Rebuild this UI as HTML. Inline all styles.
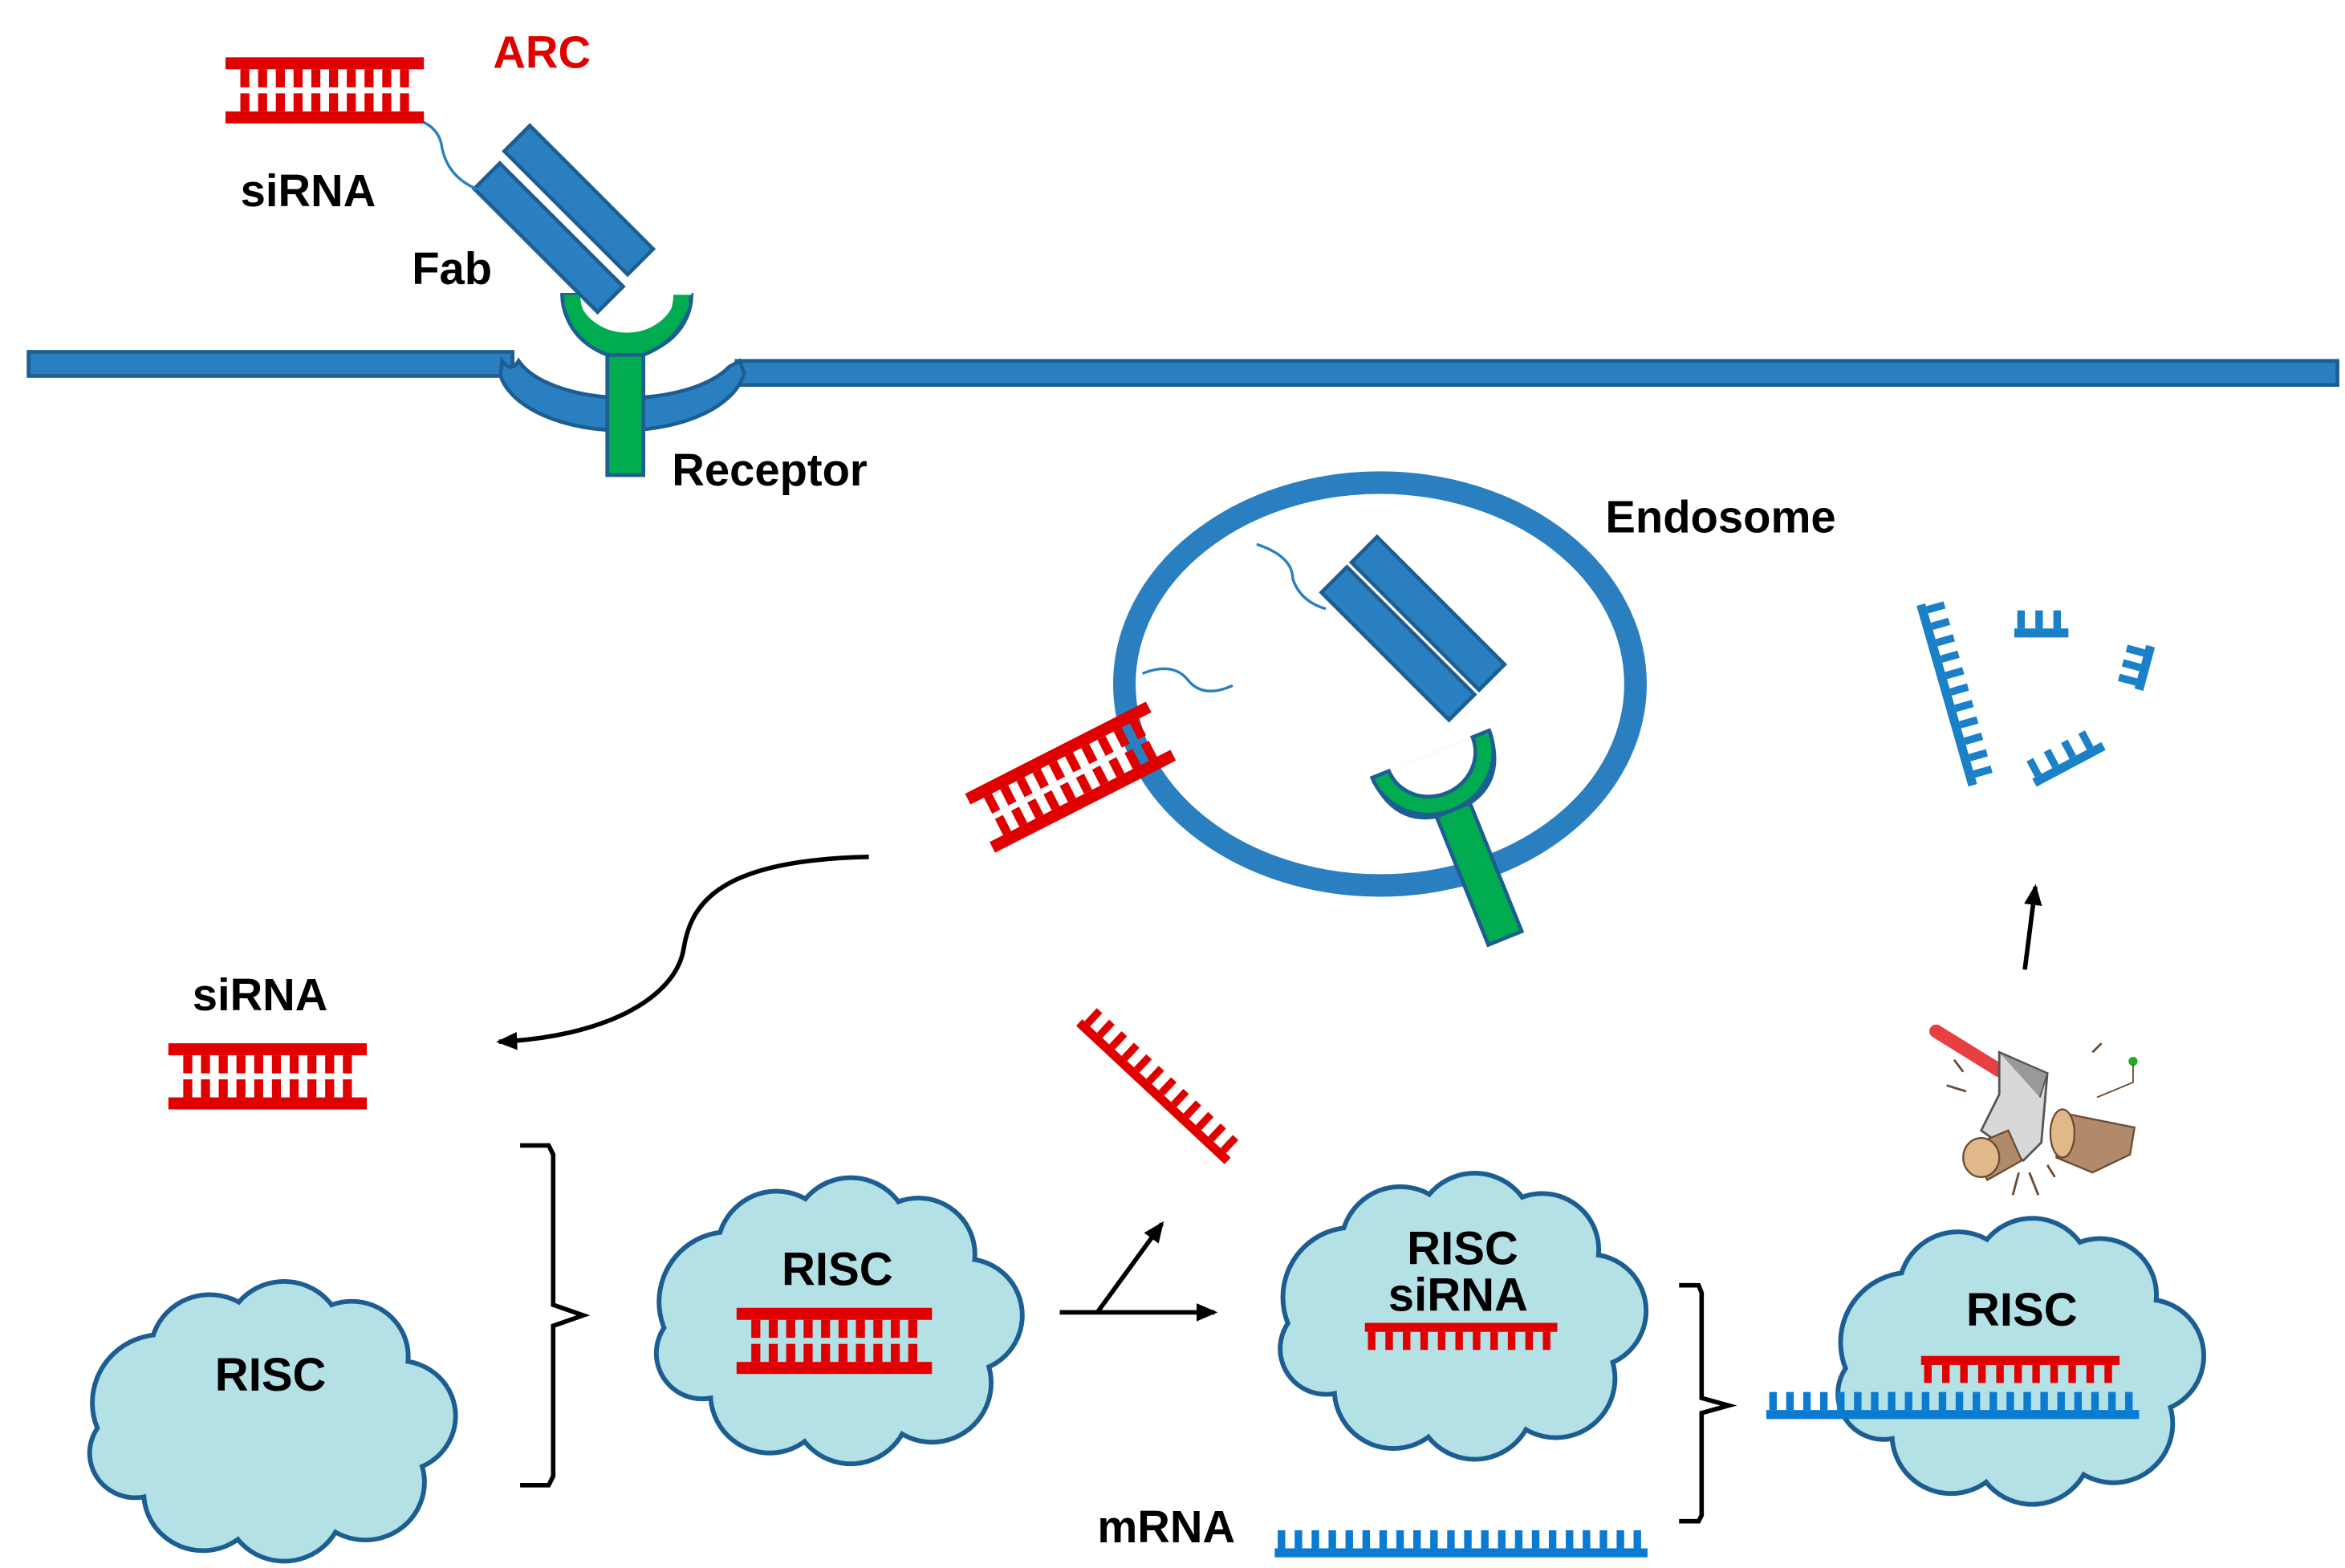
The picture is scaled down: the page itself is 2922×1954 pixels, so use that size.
<!DOCTYPE html>
<html><head><meta charset="utf-8"><style>
html,body{margin:0;padding:0;background:#fff}
svg{display:block}
text{font-family:"Liberation Sans",sans-serif;font-weight:bold}
</style></head><body>
<svg id="s" width="2922" height="1954" viewBox="0 0 1560 1043" xmlns="http://www.w3.org/2000/svg">
<rect width="1560" height="1043" fill="#fff"/>
<g id="g"></g>
<!-- membrane -->
<rect x="19" y="234" width="322" height="16" fill="#2a7fc1" stroke="#1d5e92" stroke-width="2.5"/>
<rect x="490" y="240" width="1065" height="16" fill="#2a7fc1" stroke="#1d5e92" stroke-width="2.5"/>
<path d="M334 240 Q340 248 345 240 A75 35 0 0 0 485 244 L492 240 L495 248 A82 44 0 0 1 333 250 Z" fill="#2a7fc1" stroke="#1d5e92" stroke-width="2.5"/>
<!-- receptor -->
<rect x="404" y="228" width="24" height="88" fill="#00ac4f" stroke="#1d5e92" stroke-width="2.5"/>
<path d="M374 196 A43 40 0 0 0 460 196 L448 196 A32 28 0 0 1 386 196 Z" fill="#00ac4f" stroke="#1d5e92" stroke-width="2.5"/>
<path d="M374 196 Q376 225 404 236 L428 236 Q456 225 460 196" fill="#00ac4f" stroke="#1d5e92" stroke-width="2.5"/>
<path d="M386 196 A31 30 0 0 0 448 196 L460 196 L460 194 L448 194" fill="#fff" stroke="none"/>
<path d="M380 200 A38 34 0 0 0 454 200" fill="none" stroke="#00ac4f" stroke-width="10"/>
<!-- Fab top -->
<g transform="translate(365,158) rotate(45)"><rect x="-58" y="-12" width="116" height="24" fill="#2a7fc1" stroke="#1d5e92" stroke-width="2.5"/></g>
<g transform="translate(385,133) rotate(45)"><rect x="-58" y="-12" width="116" height="24" fill="#2a7fc1" stroke="#1d5e92" stroke-width="2.5"/></g>
<path d="M272 78 Q292 82 294 98 Q298 118 318 126" fill="none" stroke="#2a7fc1" stroke-width="1.8"/>
<!-- endosome -->
<ellipse cx="918" cy="455" rx="170" ry="134" fill="none" stroke="#2a7fc1" stroke-width="15"/>
<g transform="translate(930,428) rotate(45)"><rect x="-60" y="-12" width="120" height="24" fill="#2a7fc1" stroke="#1d5e92" stroke-width="2.5"/></g>
<g transform="translate(950,408) rotate(45)"><rect x="-60" y="-12" width="120" height="24" fill="#2a7fc1" stroke="#1d5e92" stroke-width="2.5"/></g>
<path d="M836 362 Q860 370 860 385 Q865 400 882 405" fill="none" stroke="#2a7fc1" stroke-width="1.8"/>
<path d="M760 448 Q780 440 790 452 Q800 465 820 456" fill="none" stroke="#2a7fc1" stroke-width="1.8"/>
<g transform="translate(960,522) rotate(-22)">
<rect x="-12" y="10" width="24" height="100" fill="#00ac4f" stroke="#1d5e92" stroke-width="2.5"/>
<path d="M-42 -22 A42 40 0 0 0 42 -22 L30 -22 A30 28 0 0 1 -30 -22 Z M-42 -22 Q-40 12 -12 18 L12 18 Q40 12 42 -22" fill="#00ac4f" stroke="#1d5e92" stroke-width="2.5"/>
<path d="M-30 -22 A30 28 0 0 0 30 -22 Z" fill="#fff"/>
<path d="M-30 -22 A30 28 0 0 0 30 -22" fill="none" stroke="#1d5e92" stroke-width="2.5"/>
</g>
<!-- arrows -->
<defs>
<marker id="ah2" markerWidth="14" markerHeight="12" refX="12" refY="6" orient="auto" markerUnits="userSpaceOnUse"><path d="M0 0 L14 6 L0 12 Z" fill="#000"/></marker></defs>
<path d="M578 570 C480 572 460 600 455 630 C450 665 400 690 332 693" fill="none" stroke="#000" stroke-width="3" marker-end="url(#ah2)"/>
<path d="M346 762 L365 762 L368 768 L368 868 L388 875 L368 882 L368 982 L365 988 L346 988" fill="none" stroke="#000" stroke-width="3"/>
<path d="M705 873 L808 873" stroke="#000" stroke-width="3" marker-end="url(#ah2)"/>
<path d="M730 873 L773 814" stroke="#000" stroke-width="3" marker-end="url(#ah2)"/>
<path d="M1117 855 L1130 855 L1132 860 L1132 930 L1150 935 L1132 940 L1132 1008 L1130 1012 L1117 1012" fill="none" stroke="#000" stroke-width="3"/>
<path d="M1347 645 L1354 590" stroke="#000" stroke-width="3" marker-end="url(#ah2)"/>
<!-- axe & logs -->
<g>
<path d="M1288 686 L1330 712" stroke="#e84040" stroke-width="9" stroke-linecap="round"/>
<path d="M1330 700 L1362 714 L1358 760 L1346 772 L1318 752 L1330 728 Z" fill="#d8d8d8" stroke="#555" stroke-width="1.5"/>
<path d="M1330 700 L1362 714 L1357 730" fill="#999" stroke="#555" stroke-width="1"/>
<path d="M1370 740 L1420 750 L1417 768 L1392 780 L1368 770 Z" fill="#b08a6a" stroke="#6a4a30" stroke-width="1.2"/>
<ellipse cx="1372" cy="754" rx="8" ry="16" fill="#e0b88a" stroke="#6a4a30" stroke-width="1.2"/>
<path d="M1312 762 L1336 752 L1345 772 L1322 785 Z" fill="#b08a6a" stroke="#6a4a30" stroke-width="1.2"/>
<ellipse cx="1318" cy="770" rx="12" ry="13" fill="#e0b88a" stroke="#6a4a30" stroke-width="1.2"/>
<circle cx="1419" cy="706" r="3" fill="#2a2"/>
<path d="M1419 708 L1419 720 L1395 730" fill="none" stroke="#6a4a30" stroke-width="1"/>
<path d="M1295 722 L1308 726 M1300 705 L1306 713 M1343 780 L1339 795 M1350 780 L1356 795 M1362 775 L1367 783 M1392 700 L1398 694" stroke="#6a4a30" stroke-width="1.5"/>
</g>
<!-- labels -->
<text x="328" y="45" font-size="30" fill="#e00000">ARC</text>
<text x="160" y="137" font-size="30" fill="#000">siRNA</text>
<text x="274" y="189" font-size="30" fill="#000">Fab</text>
<text x="447" y="323" font-size="30" fill="#000">Receptor</text>
<text x="1068" y="354" font-size="30" fill="#000">Endosome</text>
<text x="128" y="672" font-size="30" fill="#000">siRNA</text>
<text x="730" y="1026" font-size="30" fill="#000">mRNA</text>
<g id="top"></g>
<text x="180" y="925" font-size="31" fill="#000" text-anchor="middle">RISC</text>
<text x="557" y="855" font-size="31" fill="#000" text-anchor="middle">RISC</text>
<text x="973" y="841" font-size="31" fill="#000" text-anchor="middle">RISC</text>
<text x="970" y="872" font-size="31" fill="#000" text-anchor="middle">siRNA</text>
<text x="1345" y="882" font-size="31" fill="#000" text-anchor="middle">RISC</text>
</svg>
<script>
var NS="http://www.w3.org/2000/svg",G=document.getElementById("g"),T=document.getElementById("top");
function el(p,n,a){var e=document.createElementNS(NS,n);for(var k in a)e.setAttribute(k,a[k]);p.appendChild(e);return e;}
function cloud(cx,cy,sx,sy){
 var c=[[-80,-10,50],[-45,-48,42],[10,-58,42],[60,-45,40],[95,0,40],[70,50,42],[10,66,42],[-50,58,42],[-100,28,32],[0,0,70],[-20,10,60],[40,10,60]];
 var g=el(G,"g",{transform:"translate("+cx+","+cy+") scale("+sx+","+sy+")"});
 c.forEach(function(q){el(g,"circle",{cx:q[0],cy:q[1],r:q[2],fill:"#b3e1e6",stroke:"#1d5e92","stroke-width":7});});
 c.forEach(function(q){el(g,"circle",{cx:q[0],cy:q[1],r:q[2],fill:"#b3e1e6"});});
}
cloud(180,942,0.9,0.88);cloud(557,875,0.9,0.9);cloud(972,872,0.9,0.9);cloud(1343,902,0.9,0.9);
function ds(p,x,y,w,col,tr){
 var g=el(p,"g",{transform:tr||""});
 el(g,"rect",{x:x,y:y,width:w,height:8,fill:col});
 el(g,"rect",{x:x,y:y+36,width:w,height:8,fill:col});
 var n=10,st=(w-14)/n;
 for(var i=0;i<n;i++){var tx=x+7+i*st+st/2-3;
  el(g,"rect",{x:tx,y:y+8,width:6,height:12,fill:col});
  el(g,"rect",{x:tx,y:y+24,width:6,height:12,fill:col});}
 return g;
}
function ss(p,x,y,w,n,col,up,tr){
 var g=el(p,"g",{transform:tr||""});
 el(g,"rect",{x:x,y:y,width:w,height:6,fill:col});
 var st=w/n;
 for(var i=0;i<n;i++){el(g,"rect",{x:x+i*st+2,y:up?y-12:y+6,width:5,height:12,fill:col});}
}
ds(T,150,38,132,"#e00000");
ds(T,112,694,132,"#e00000");
ds(T,490,870,130,"#e00000");
ds(T,0,0,135,"#e00000","translate(642,528) rotate(-27)");
ss(T,908,880,128,11,"#e00000",false);
ss(T,1278,902,132,11,"#e00000",false);
ss(T,1175,938,248,22,"#0a7bd0",true);
ss(T,848,1030,248,22,"#0a7bd0",true);
ss(T,0,0,135,12,"#e00000",true,"translate(720,678) rotate(43)");
ss(T,0,0,125,11,"#1a80c8",false,"translate(1275,403) rotate(74) scale(1,-1)");
ss(T,0,0,36,3,"#1a80c8",true,"translate(1340,418)");
ss(T,0,0,30,3,"#1a80c8",true,"translate(1420,458) rotate(-75)");
ss(T,0,0,52,4,"#1a80c8",true,"translate(1352,518) rotate(-28)");
</script>
</body></html>
